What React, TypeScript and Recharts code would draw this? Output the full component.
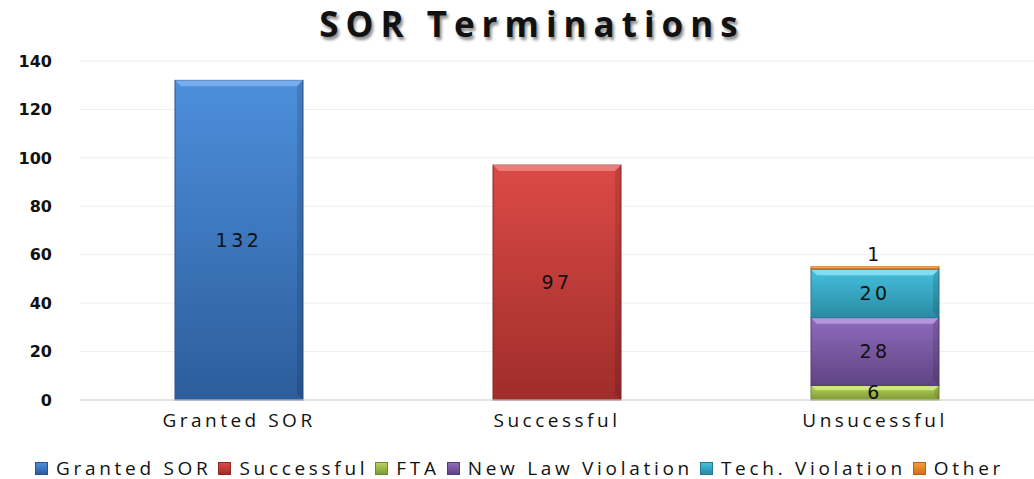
import { BarChart, Bar, XAxis, YAxis, CartesianGrid, Legend, LabelList } from "recharts";

const categories = ["Granted SOR", "Successful", "Unsucessful"];
const grantedSor = [132, null, null];
const successful = [null, 97, null];
const fta = [null, null, 6];
const newLawViolation = [null, null, 28];
const techViolation = [null, null, 20];
const other = [null, null, 1];
const yTicks = [0, 20, 40, 60, 80, 100, 120, 140];

const series = [
  { key: "Granted SOR", values: grantedSor, id: "gBlue", light: "#4d8fdc", dark: "#2c5d9b", top: "#7fb3ee", stroke: "#2a5288" },
  { key: "Successful", values: successful, id: "gRed", light: "#dc4a46", dark: "#9f2d2b", top: "#ee8582", stroke: "#8c2725" },
  { key: "FTA", values: fta, id: "gGreen", light: "#b3d35a", dark: "#7f9a35", top: "#d2ea8c", stroke: "#718a2e" },
  { key: "New Law Violation", values: newLawViolation, id: "gPurple", light: "#8f6bbd", dark: "#5f4483", top: "#bb9de3", stroke: "#553c76" },
  { key: "Tech. Violation", values: techViolation, id: "gCyan", light: "#45c0dd", dark: "#2a8aa3", top: "#8ce3f5", stroke: "#247a91" },
  { key: "Other", values: other, id: "gOrange", light: "#f89a3a", dark: "#d0701a", top: "#fbbd78", stroke: "#b86216" },
];

const data = categories.map((name, i) => {
  const row: Record<string, any> = { name };
  series.forEach((s) => {
    row[s.key] = s.values[i];
  });
  return row;
});

const labelStyle = { fontFamily: "DejaVu Sans", fontSize: 19, fill: "#111", letterSpacing: 3.5 };

// bar with a small bevel on top, like the office 3d style
const BevelBar = (props: any) => {
  const { x, y, width, height, fill, stroke, topColor } = props;
  if (!height || height <= 0) return null;
  const b = Math.min(6, height / 3);
  return (
    <g>
      <rect x={x} y={y} width={width} height={height} fill={fill} stroke={stroke} strokeWidth={1} />
      <polygon
        points={`${x},${y} ${x + width},${y} ${x + width - b},${y + b} ${x + b},${y + b}`}
        fill={topColor}
        opacity={0.85}
      />
      <polygon
        points={`${x + width},${y} ${x + width},${y + height} ${x + width - b},${y + height - b} ${x + width - b},${y + b}`}
        fill="#000"
        opacity={0.12}
      />
    </g>
  );
};

// legend in the series order (recharts 3 sorts its own legend by name)
const SeriesLegend = () => (
  <div
    style={{
      display: "flex",
      alignItems: "center",
      whiteSpace: "nowrap",
      fontFamily: "Open Sans",
      fontSize: 19,
      letterSpacing: 3.7,
      color: "#111",
    }}>
    {series.map((s) => (
      <span key={s.key} style={{ display: "inline-flex", alignItems: "center", marginRight: 7 }}>
        <span
          style={{
            display: "inline-block",
            width: 11,
            height: 11,
            marginRight: 8,
            background: `linear-gradient(${s.light}, ${s.dark})`,
            border: `1px solid ${s.stroke}`,
          }}
        />
        {s.key}
      </span>
    ))}
  </div>
);

const App = () => {
  return (
    <div style={{ position: "absolute", left: 0, top: 0, width: 1034, height: 479, background: "#fff" }}>
      <div
        style={{
          position: "absolute",
          top: 0,
          left: 0,
          width: 1034,
          boxSizing: "border-box",
          paddingLeft: 30,
          textAlign: "center",
          fontFamily: "Open Sans",
          fontWeight: "bold",
          fontSize: 35,
          letterSpacing: 7,
          color: "#111",
          textShadow: "2px 3px 3px rgba(0,0,0,0.45)",
          zIndex: 2,
        }}>
        SOR Terminations
      </div>
      <BarChart
        width={1034}
        height={479}
        data={data}
        margin={{ top: 61, right: 0, left: 0, bottom: 0 }}>
        <defs>
          {series.map((s) => (
            <linearGradient key={s.id} id={s.id} x1="0" y1="0" x2="0" y2="1">
              <stop offset="0%" stopColor={s.light} />
              <stop offset="100%" stopColor={s.dark} />
            </linearGradient>
          ))}
        </defs>
        <CartesianGrid stroke="#eeeeee" vertical={false} />
        <XAxis
          dataKey="name"
          height={45}
          axisLine={{ stroke: "#d0d0d0" }}
          tickLine={false}
          tickMargin={8}
          tick={{ fill: "#111", fontSize: 19, fontFamily: "Open Sans", letterSpacing: 3.5 }}
        />
        <YAxis
          width={80}
          domain={[0, 140]}
          ticks={yTicks}
          axisLine={false}
          tickLine={false}
          tickMargin={22}
          tick={{ fill: "#111", fontSize: 16, fontFamily: "DejaVu Sans", fontWeight: "bold" }}
        />
        <Legend
          verticalAlign="bottom"
          height={34}
          content={() => <SeriesLegend />}
          wrapperStyle={{ left: 35, top: 455, width: 995 }}
        />
        {series.map((s) => (
          <Bar
            key={s.key}
            dataKey={s.key}
            stackId="a"
            barSize={128}
            fill={`url(#${s.id})`}
            stroke={s.stroke}
            shape={(p: any) => <BevelBar {...p} topColor={s.top} stroke={s.stroke} />}
            isAnimationActive={false}>
            <LabelList
              dataKey={s.key}
              position={s.key === "Other" ? "top" : "center"}
              offset={6}
              style={labelStyle}
            />
          </Bar>
        ))}
      </BarChart>
    </div>
  );
};

export default App;
